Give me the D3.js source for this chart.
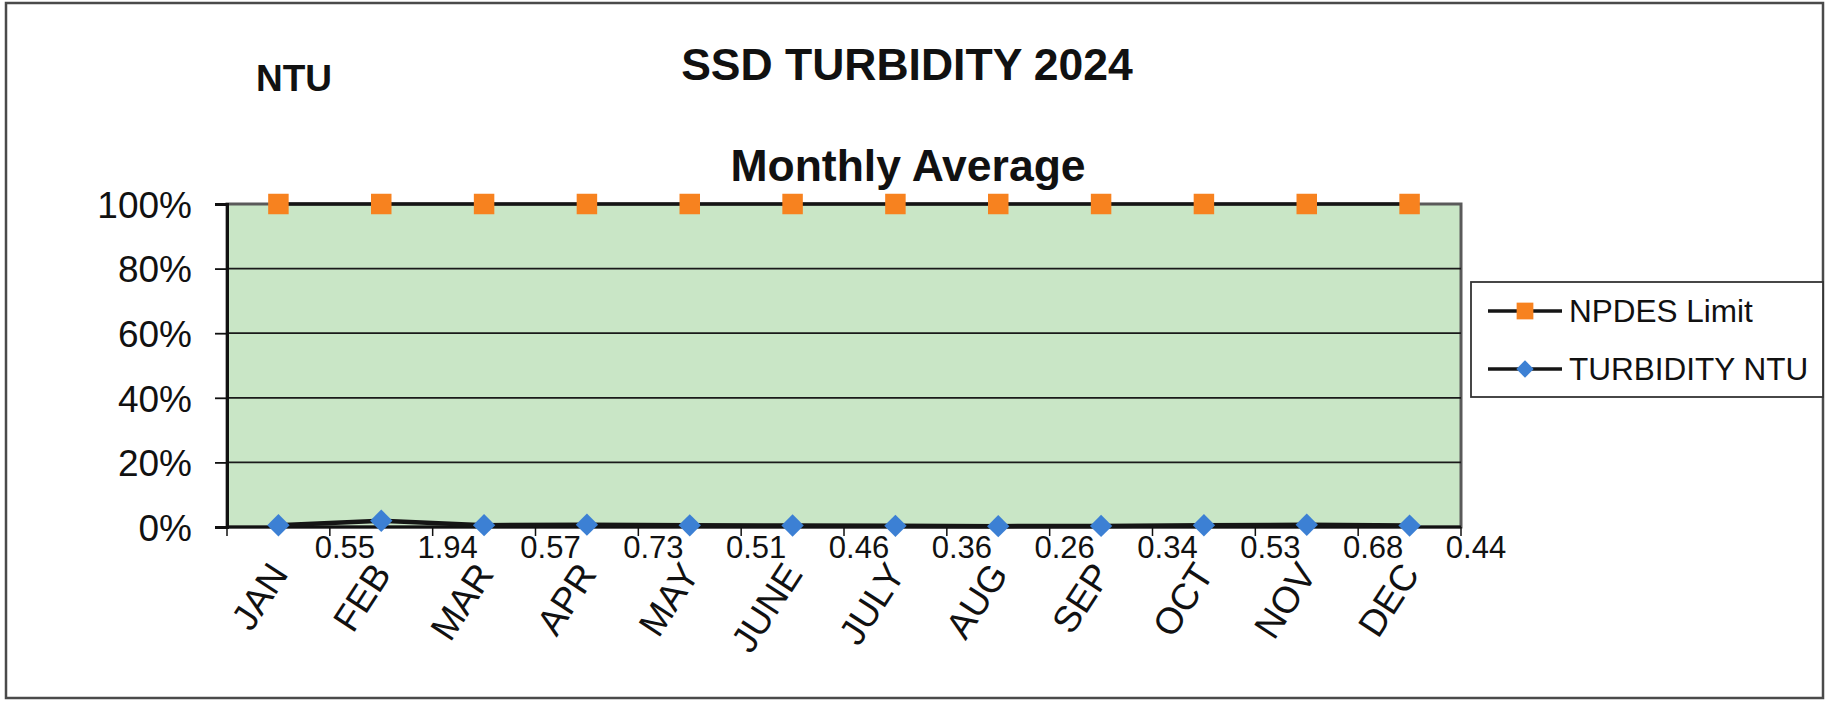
<!DOCTYPE html>
<html>
<head>
<meta charset="utf-8">
<script src="https://cdn.jsdelivr.net/npm/d3@7"></script>
<style>
  html, body { margin: 0; padding: 0; background: #ffffff; }
  svg { display: block; }
  text { font-family: "Liberation Sans", Arial, sans-serif; fill: #111; }
</style>
</head>
<body>
<svg id="chart" width="1826" height="701"></svg>
<script>
// ---- data ----
const months = ["JAN", "FEB", "MAR", "APR", "MAY", "JUNE", "JULY", "AUG", "SEP", "OCT", "NOV", "DEC"];
const npdesLimit = [100, 100, 100, 100, 100, 100, 100, 100, 100, 100, 100, 100];
const turbidity = [0.55, 1.94, 0.57, 0.73, 0.51, 0.46, 0.36, 0.26, 0.34, 0.53, 0.68, 0.44];
const turbidityLabels = ["0.55", "1.94", "0.57", "0.73", "0.51", "0.46", "0.36", "0.26", "0.34", "0.53", "0.68", "0.44"];
const yTicks = [0, 20, 40, 60, 80, 100];
const seriesNames = ["NPDES Limit", "TURBIDITY NTU"];
const titleText = "SSD TURBIDITY 2024";
const subtitleText = "Monthly Average";
const unitText = "NTU";

// ---- layout ----
const plot = { left: 227, right: 1461, top: 204, bottom: 527 };
const colors = { bg: "#c9e6c6", orange: "#f7821f", blue: "#3c80d4", line: "#151515" };

const svg = d3.select("#chart");

// page border
svg.append("rect")
  .attr("x", 6).attr("y", 3).attr("width", 1817).attr("height", 695)
  .attr("fill", "#fff").attr("stroke", "#4a4a4a").attr("stroke-width", 2.5);

const x = d3.scaleBand().domain(months).range([plot.left, plot.right]).padding(0);
const y = d3.scaleLinear().domain([0, 100]).range([plot.bottom, plot.top]);
const cx = m => x(m) + x.bandwidth() / 2;

// plot area background
svg.append("rect")
  .attr("x", plot.left).attr("y", y(100))
  .attr("width", plot.right - plot.left).attr("height", y(0) - y(100))
  .attr("fill", colors.bg).attr("stroke", "#5a5a5a").attr("stroke-width", 3);

// gridlines
svg.append("g").selectAll("line").data(yTicks.filter(d => d > 0 && d < 100)).join("line")
  .attr("x1", plot.left).attr("x2", plot.right)
  .attr("y1", d => y(d)).attr("y2", d => y(d))
  .attr("stroke", "#1a1a1a").attr("stroke-width", 1.8);

// y axis
const yAxis = svg.append("g").attr("transform", `translate(${plot.left},0)`)
  .call(d3.axisLeft(y).tickValues(yTicks).tickFormat(d => d + "%").tickSize(12).tickPadding(23));
yAxis.select(".domain").attr("stroke", "#111").attr("stroke-width", 3);
yAxis.selectAll(".tick line").attr("stroke", "#111").attr("stroke-width", 1.8);
yAxis.selectAll(".tick text")
  .attr("font-size", 37).attr("font-family", "'Liberation Sans', Arial, sans-serif")
  .attr("fill", "#111").attr("dy", "0.36em");

// x axis (ticks at category boundaries)
const boundaries = months.map(m => x(m)).concat([x.range()[1]]);
svg.append("line")
  .attr("x1", plot.left).attr("x2", plot.right)
  .attr("y1", y(0)).attr("y2", y(0))
  .attr("stroke", "#111").attr("stroke-width", 3);
svg.append("g").selectAll("line").data(boundaries).join("line")
  .attr("x1", d => d).attr("x2", d => d)
  .attr("y1", y(0)).attr("y2", y(0) + 9)
  .attr("stroke", "#111").attr("stroke-width", 1.5);

// value labels row at the boundaries
svg.append("g").selectAll("text").data(turbidityLabels).join("text")
  .attr("x", (d, i) => boundaries[i + 1] + 15)
  .attr("y", y(0) + 31)
  .attr("text-anchor", "middle")
  .attr("font-size", 31)
  .text(d => d);

// month labels, rotated
svg.append("g").selectAll("text").data(months).join("text")
  .attr("transform", m => `translate(${cx(m) + 11},${y(0) + 47}) rotate(-57)`)
  .attr("text-anchor", "end")
  .attr("font-size", 37)
  .text(m => m);

// series lines
const lineGen = vals => d3.line().x((d, i) => cx(months[i])).y(d => y(d))(vals);
svg.append("path").attr("d", lineGen(npdesLimit))
  .attr("fill", "none").attr("stroke", colors.line).attr("stroke-width", 3.5);
svg.append("path").attr("d", lineGen(turbidity))
  .attr("fill", "none").attr("stroke", colors.line).attr("stroke-width", 4.5);

// markers
const squareSym = d3.symbol(d3.symbolSquare, 420);
const diamondSym = d3.symbol(d3.symbolSquare, 250);
svg.append("g").selectAll("path").data(npdesLimit).join("path")
  .attr("d", squareSym)
  .attr("transform", (d, i) => `translate(${cx(months[i])},${y(d)})`)
  .attr("fill", colors.orange);
svg.append("g").selectAll("path").data(turbidity).join("path")
  .attr("d", diamondSym)
  .attr("transform", (d, i) => `translate(${cx(months[i])},${y(d)}) rotate(45)`)
  .attr("fill", colors.blue);

// titles
svg.append("text").attr("x", 907).attr("y", 80).attr("text-anchor", "middle")
  .attr("font-size", 44.5).attr("font-weight", "bold").text(titleText);
svg.append("text").attr("x", 908).attr("y", 181).attr("text-anchor", "middle")
  .attr("font-size", 44.5).attr("font-weight", "bold").text(subtitleText);
svg.append("text").attr("x", 256).attr("y", 91).attr("text-anchor", "start")
  .attr("font-size", 37).attr("font-weight", "bold").text(unitText);

// legend
const lg = svg.append("g");
lg.append("rect").attr("x", 1471).attr("y", 282).attr("width", 352).attr("height", 115)
  .attr("fill", "#fff").attr("stroke", "#333").attr("stroke-width", 1.8);
const legendRows = [
  { name: seriesNames[0], y: 311, sym: d3.symbol(d3.symbolSquare, 280), color: colors.orange, rot: 0 },
  { name: seriesNames[1], y: 369, sym: d3.symbol(d3.symbolSquare, 150), color: colors.blue, rot: 45 }
];
legendRows.forEach(r => {
  lg.append("line").attr("x1", 1488).attr("x2", 1562).attr("y1", r.y).attr("y2", r.y)
    .attr("stroke", colors.line).attr("stroke-width", 3.5);
  lg.append("path").attr("d", r.sym).attr("fill", r.color)
    .attr("transform", `translate(1525,${r.y}) rotate(${r.rot})`);
  lg.append("text").attr("x", 1569).attr("y", r.y).attr("dy", "0.36em")
    .attr("font-size", 31.5).text(r.name);
});
</script>
</body>
</html>
